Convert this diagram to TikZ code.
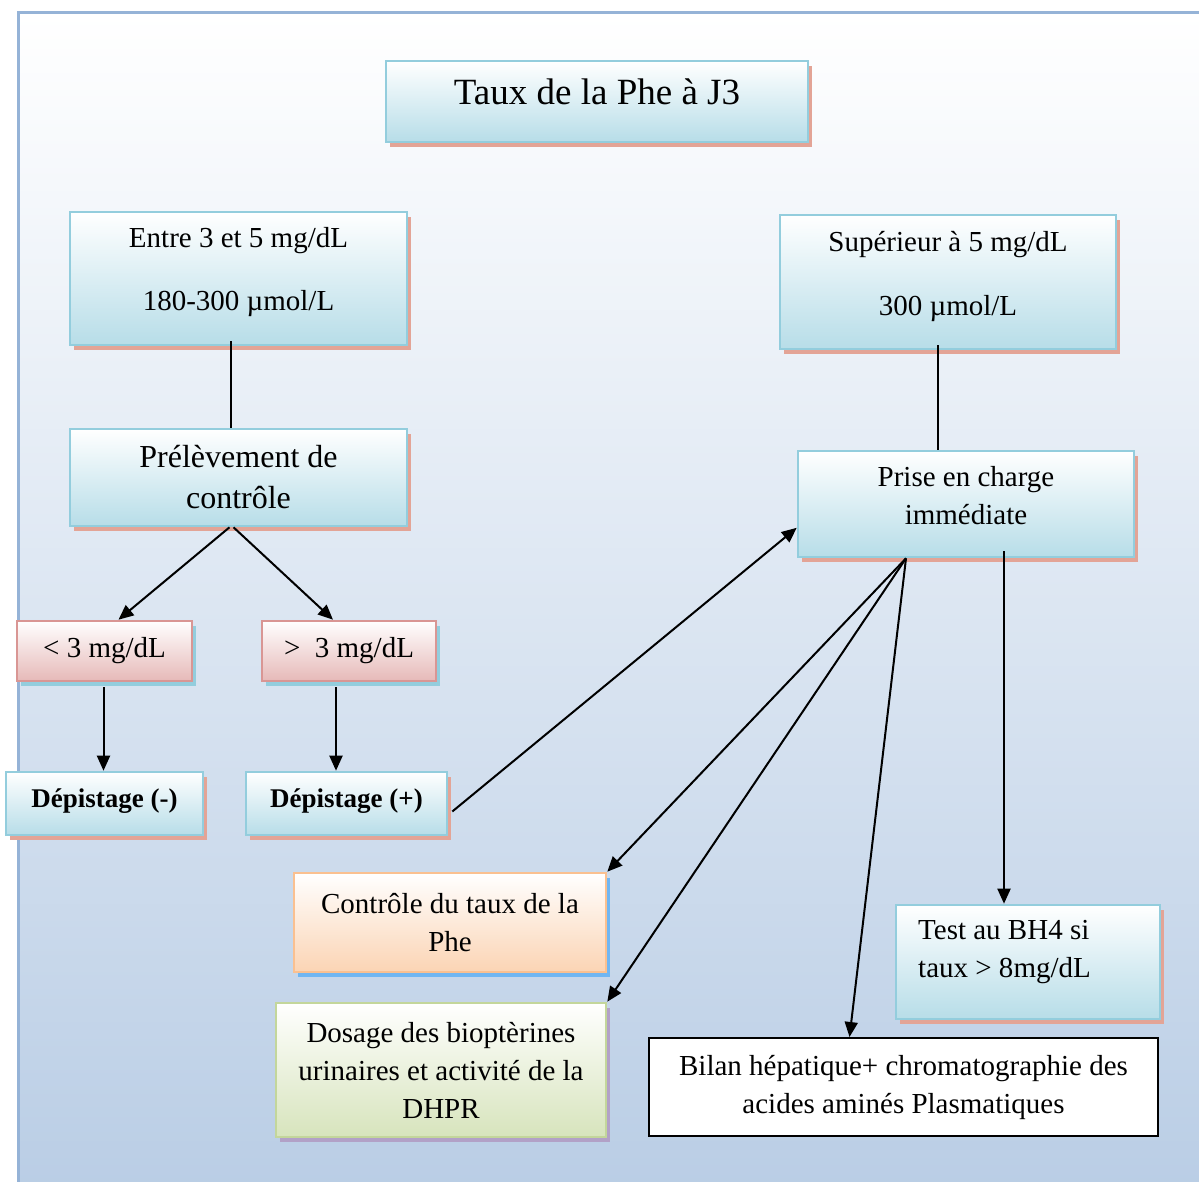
\documentclass[tikz,border=0pt]{standalone}
\usepackage{fontspec}
\setmainfont{Liberation Serif}
\usetikzlibrary{arrows.meta,shadows}

\definecolor{paneledge}{HTML}{95B3D7}
\definecolor{panelbottom}{HTML}{B9CDE5}
\definecolor{aquaedge}{HTML}{93CDDD}
\definecolor{aquafill}{HTML}{B7DDE8}
\definecolor{salmon}{HTML}{E3A496}
\definecolor{roseedge}{HTML}{D99694}
\definecolor{rosefill}{HTML}{E6B9B8}
\definecolor{peachedge}{HTML}{FAC090}
\definecolor{peachfill}{HTML}{FBD4B4}
\definecolor{skyshadow}{HTML}{70B6F2}
\definecolor{sageedge}{HTML}{C3D69B}
\definecolor{sagefill}{HTML}{D7E4BC}
\definecolor{lilac}{HTML}{B2A1C7}

\newcommand{\lifted}[2]{\raisebox{#1}[\height][\depth]{\begin{tabular}{@{}c@{}}#2\end{tabular}}}

\begin{document}
\begin{tikzpicture}[x=1pt,y=-1pt,
	box/.style={rectangle,line width=2.6pt,inner sep=0pt,align=center,
		font=\fontsize{29}{38}\selectfont},
	aqua/.style={box,draw=aquaedge,top color=white,bottom color=aquafill,
		drop shadow={shadow xshift=4pt,shadow yshift=-5pt,fill=salmon,opacity=1}},
	rose/.style={box,draw=roseedge,top color=white,bottom color=rosefill,
		drop shadow={shadow xshift=4pt,shadow yshift=-5pt,fill=aquaedge,opacity=1}},
	peach/.style={box,draw=peachedge,top color=white,bottom color=peachfill,
		drop shadow={shadow xshift=4pt,shadow yshift=-5pt,fill=skyshadow,opacity=1}},
	sage/.style={box,draw=sageedge,top color=white,bottom color=sagefill,
		drop shadow={shadow xshift=4pt,shadow yshift=-5pt,fill=lilac,opacity=1}},
	plain/.style={box,draw=black,line width=2pt,fill=white},
	link/.style={line width=2pt},
	arrow/.style={link,-{Triangle[length=15pt,width=13pt]}}]
	\useasboundingbox (0,0) rectangle (1199,1182);
	% Background panel
	\path[draw=paneledge,line width=3pt,top color=white,bottom color=panelbottom]
		(18,13) rectangle (1215,1200);
	% Top
	\node[aqua,font=\fontsize{37}{44}\selectfont,minimum width=422pt,minimum height=81pt]
		(title) at (597,101.5) {\lifted{6pt}{Taux de la Phe à J3}};
	% Left branch
	\node[aqua,minimum width=337pt,minimum height=133pt] (entre) at (238.5,278.5)
		{\lifted{7pt}{Entre 3 et 5 mg/dL\\[25pt]180-300 µmol/L}};
	\node[aqua,font=\fontsize{32}{41}\selectfont,minimum width=337pt,minimum height=97pt]
		(prel) at (238.5,477.5) {Prélèvement de\\contrôle};
	\node[rose,minimum width=175pt,minimum height=60pt] (lt) at (104.5,651) {< 3 mg/dL};
	\node[rose,minimum width=174pt,minimum height=60pt] (gt) at (349,651) {>~ 3 mg/dL};
	\node[aqua,font=\fontsize{27}{34}\selectfont\bfseries,minimum width=197pt,minimum height=63pt]
		(depneg) at (104.5,803.5) {\lifted{3pt}{Dépistage (-)}};
	\node[aqua,font=\fontsize{27}{34}\selectfont\bfseries,minimum width=201pt,minimum height=63pt]
		(deppos) at (346.5,803.5) {\lifted{3pt}{Dépistage (+)}};
	% Right branch
	\node[aqua,minimum width=336pt,minimum height=134pt] (sup) at (948,282)
		{\lifted{6pt}{Supérieur à 5 mg/dL\\[26pt]300 µmol/L}};
	\node[aqua,minimum width=336pt,minimum height=106pt] (prise) at (966,504)
		{\lifted{6pt}{Prise en charge\\immédiate}};
	% Bottom
	\node[peach,minimum width=312pt,minimum height=99pt] (ctrl) at (450,922.5)
		{Contrôle du taux de la\\Phe};
	\node[sage,minimum width=330pt,minimum height=134pt] (dosage) at (441,1070)
		{Dosage des bioptèrines\\urinaires et activité de la\\DHPR};
	\node[aqua,minimum width=264pt,minimum height=114pt] (bh4) at (1028,962)
		{\raisebox{11pt}[\height][\depth]{\begin{tabular}{@{}l@{}}Test au BH4 si\\taux > 8mg/dL\end{tabular}}\hspace{47pt}};
	\node[plain,minimum width=509pt,minimum height=98pt] (bilan) at (903.5,1087)
		{Bilan hépatique+ chromatographie des\\acides aminés Plasmatiques};
	% Connectors
	\draw[link] ([xshift=-8pt,yshift=5pt]entre.south) -- ([xshift=-8pt]prel.north);
	\draw[link] ([xshift=-10pt,yshift=5pt]sup.south) -- ([xshift=-10pt]sup.south |- prise.north);
	\draw[arrow] ([xshift=-9pt]prel.south) -- ([xshift=14pt]lt.north);
	\draw[arrow] ([xshift=-5pt]prel.south) -- ([xshift=-16pt]gt.north);
	\draw[arrow] ([xshift=-1pt,yshift=-5pt]lt.south) -- ([xshift=-1pt]lt.south |- depneg.north);
	\draw[arrow] ([xshift=-13pt,yshift=-5pt]gt.south) -- ([xshift=-13pt]gt.south |- deppos.north);
	\draw[arrow] ([xshift=4pt,yshift=-8pt]deppos.east) -- (prise.188);
	\draw[arrow] ([xshift=-60pt]prise.south) -- (ctrl.north east);
	\draw[arrow] ([xshift=-60pt]prise.south) -- (dosage.north east);
	\draw[arrow] ([xshift=-60pt]prise.south) -- ([xshift=-54pt]bilan.north);
	\draw[arrow] ([xshift=38pt,yshift=7pt]prise.south) -- ([xshift=38pt]prise.south |- bh4.north);
\end{tikzpicture}
\end{document}
